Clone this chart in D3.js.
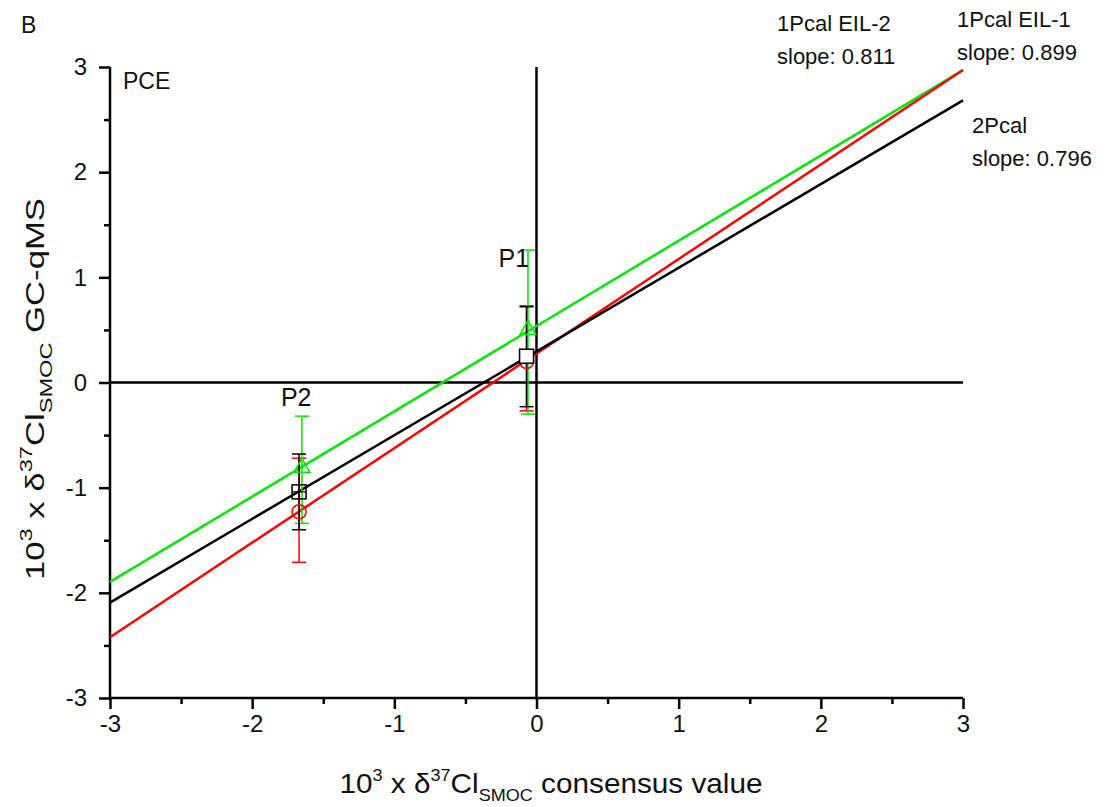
<!DOCTYPE html>
<html>
<head>
<meta charset="utf-8">
<script src="https://cdn.jsdelivr.net/npm/d3@7"></script>
<style>
  body { margin: 0; background: #fff; }
  text { font-family: "Liberation Sans", Arial, sans-serif; }
</style>
</head>
<body>
<script>
// fit lines: name, colour, slope, intercept
var lineNames  = ["1Pcal EIL-2", "1Pcal EIL-1", "2Pcal"];
var lineColors = ["#00e600", "#ff0000", "#000000"];
var slopes     = [0.811, 0.899, 0.796];
var intercepts = [0.537, 0.275, 0.295];

// points P1 / P2 per series
var pointLabels = ["P1", "P2"];
var greenX = [-0.06, -1.65], greenY = [0.50, -0.81], greenLo = [-0.30, -1.34], greenHi = [1.26, -0.32];
var redX   = [-0.07, -1.67], redY   = [0.20, -1.23], redLo   = [-0.27, -1.71], redHi   = [0.73, -0.72];
var blackX = [-0.07, -1.67], blackY = [0.25, -1.04], blackLo = [-0.23, -1.40], blackHi = [0.72, -0.68];

var xTicks = [-3, -2, -1, 0, 1, 2, 3];
var yTicks = [-3, -2, -1, 0, 1, 2, 3];

var width = 1107, height = 807;
var margin = {top: 67, right: 144, bottom: 109, left: 110};

var svg = d3.select("body").append("svg")
    .attr("width", width)
    .attr("height", height);

var x = d3.scaleLinear().domain([-3, 3]).range([margin.left, width - margin.right]);
var y = d3.scaleLinear().domain([-3, 3]).range([height - margin.bottom, margin.top]);

// minor ticks at halves
var xMinor = d3.range(-2.5, 3, 1);
var yMinor = d3.range(-2.5, 3, 1);
var fmt = function(d) { return String(d); };

var xAxis = svg.append("g")
    .attr("transform", "translate(0," + y(-3) + ")")
    .call(d3.axisBottom(x).tickValues(xTicks).tickSize(11).tickPadding(6).tickFormat(fmt));
svg.append("g")
    .attr("transform", "translate(0," + y(-3) + ")")
    .call(d3.axisBottom(x).tickValues(xMinor).tickSize(6).tickFormat(""))
    .select(".domain").remove();

var yAxis = svg.append("g")
    .attr("transform", "translate(" + x(-3) + ",0)")
    .call(d3.axisLeft(y).tickValues(yTicks).tickSize(11).tickPadding(12).tickFormat(fmt));
svg.append("g")
    .attr("transform", "translate(" + x(-3) + ",0)")
    .call(d3.axisLeft(y).tickValues(yMinor).tickSize(6).tickFormat(""))
    .select(".domain").remove();

svg.selectAll(".domain").attr("stroke-width", 2.5);
svg.selectAll(".tick line").attr("stroke-width", 2.5);
svg.selectAll("g").attr("font-size", 24).attr("font-family", "'Liberation Sans', Arial, sans-serif");
svg.selectAll(".tick text").attr("fill", "#111");
xAxis.selectAll(".domain").attr("d", "M" + x(-3) + ",0H" + x(3));
yAxis.selectAll(".domain").attr("d", "M0," + y(-3) + "V" + y(3));

// zero lines
svg.append("line").attr("x1", x(0)).attr("x2", x(0)).attr("y1", y(-3)).attr("y2", y(3))
    .attr("stroke", "#000").attr("stroke-width", 2.5);
svg.append("line").attr("x1", x(-3)).attr("x2", x(3)).attr("y1", y(0)).attr("y2", y(0))
    .attr("stroke", "#000").attr("stroke-width", 2.5);

// regression lines
lineNames.forEach(function(n, i) {
  svg.append("line")
    .attr("x1", x(-3)).attr("y1", y(slopes[i] * -3 + intercepts[i]))
    .attr("x2", x(3)).attr("y2", y(slopes[i] * 3 + intercepts[i]))
    .attr("stroke", lineColors[i]).attr("stroke-width", 2.5);
});

// error bars
function errBars(xs, ys, lo, hi, col) {
  xs.forEach(function(d, i) {
    var g = svg.append("g").attr("stroke", col).attr("stroke-width", 1.5);
    g.append("line").attr("x1", x(d)).attr("x2", x(d)).attr("y1", y(lo[i])).attr("y2", y(hi[i]));
    g.append("line").attr("x1", x(d) - 7).attr("x2", x(d) + 7).attr("y1", y(lo[i])).attr("y2", y(lo[i]));
    g.append("line").attr("x1", x(d) - 7).attr("x2", x(d) + 7).attr("y1", y(hi[i])).attr("y2", y(hi[i]));
  });
}
errBars(redX, redY, redLo, redHi, lineColors[1]);
errBars(greenX, greenY, greenLo, greenHi, lineColors[0]);
errBars(blackX, blackY, blackLo, blackHi, lineColors[2]);

// markers
svg.selectAll(".circ").data(redX).enter().append("circle")
    .attr("cx", function(d) { return x(d); })
    .attr("cy", function(d, i) { return y(redY[i]); })
    .attr("r", 7).attr("fill", "none").attr("stroke", lineColors[1]).attr("stroke-width", 1.5);

svg.selectAll(".tri").data(greenX).enter().append("path")
    .attr("d", d3.symbol().type(d3.symbolTriangle).size(110))
    .attr("transform", function(d, i) { return "translate(" + x(d) + "," + y(greenY[i]) + ")"; })
    .attr("fill", "none").attr("stroke", lineColors[0]).attr("stroke-width", 1.5);

svg.selectAll(".sq").data(blackX).enter().append("rect")
    .attr("x", function(d) { return x(d) - 7; })
    .attr("y", function(d, i) { return y(blackY[i]) - 7; })
    .attr("width", 14).attr("height", 14)
    .attr("fill", function(d, i) { return i === 0 ? "#fff" : "none"; })
    .attr("stroke", "#000").attr("stroke-width", 1.5);

// P2 square has a crossing bar
svg.append("line")
    .attr("x1", x(blackX[1]) - 7).attr("x2", x(blackX[1]) + 7)
    .attr("y1", y(blackY[1])).attr("y2", y(blackY[1]))
    .attr("stroke", "#000").attr("stroke-width", 1.2);

// point labels (anchor in data units)
var labelX = [-0.16, -1.69];
var labelY = [1.095, -0.22];
svg.selectAll(".plab").data(pointLabels).enter().append("text")
    .attr("x", function(d, i) { return x(labelX[i]); })
    .attr("y", function(d, i) { return y(labelY[i]); })
    .attr("text-anchor", "middle")
    .attr("font-size", 25).attr("fill", "#111")
    .text(function(d) { return d; });

// panel texts
svg.append("text").attr("x", 21).attr("y", 33).attr("font-size", 23).attr("fill", "#111").text("B");
svg.append("text").attr("x", x(-3) + 13).attr("y", y(3) + 22).attr("font-size", 23).attr("fill", "#111").text("PCE");

// slope annotations
var annX = [777, 957, 972];
var annY = [31, 27, 133];
lineNames.forEach(function(n, i) {
  svg.append("text").attr("x", annX[i]).attr("y", annY[i]).attr("font-size", 22).attr("fill", "#111").text(n);
  svg.append("text").attr("x", annX[i]).attr("y", annY[i] + 33).attr("font-size", 22).attr("fill", "#111")
    .text("slope: " + d3.format(".3f")(slopes[i]));
});

// axis titles
function titleParts(t, tail) {
  t.append("tspan").text("10");
  t.append("tspan").attr("font-size", 17).attr("dy", -12).text("3");
  t.append("tspan").attr("dy", 12).text(" x \u03b4");
  t.append("tspan").attr("font-size", 17).attr("dy", -12).text("37");
  t.append("tspan").attr("dy", 12).text("Cl");
  t.append("tspan").attr("font-size", 17).attr("dy", 8).text("SMOC");
  t.append("tspan").attr("dy", -8).text(tail);
}
var xt = svg.append("text").attr("x", 551).attr("y", 793).attr("text-anchor", "middle")
    .attr("font-size", 28).attr("fill", "#111")
    .attr("textLength", 423).attr("lengthAdjust", "spacingAndGlyphs");
titleParts(xt, " consensus value");

var yt = svg.append("text").attr("transform", "translate(44,389) rotate(-90)")
    .attr("text-anchor", "middle").attr("font-size", 25).attr("fill", "#111")
    .attr("textLength", 382).attr("lengthAdjust", "spacingAndGlyphs");
titleParts(yt, " GC-qMS");
</script>
</body>
</html>
